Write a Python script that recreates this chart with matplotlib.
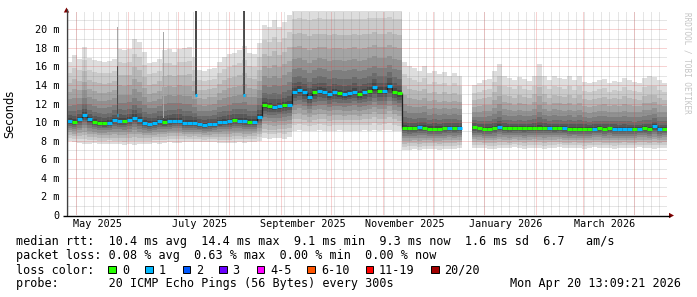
import datetime as dt
import numpy as np
import matplotlib
matplotlib.use("Agg")
import matplotlib.pyplot as plt
import matplotlib.dates as mdates
from matplotlib.patches import Polygon, Rectangle

nan = float("nan")

# ---------------------------------------------------------------- data
t_start = dt.datetime(2025, 4, 25, 13, 9, 21)
t_end = dt.datetime(2026, 4, 20, 13, 9, 21)
bin_days = 3  # every value below covers three days

median_ms = [
    10.16, 10.0, 10.3, 10.77, 10.3, 10.05, 9.9, 9.87, 9.95, 10.2,
    10.16, 10.1, 10.2, 10.5, 10.2, 9.9, 9.85, 9.9, 10.1, 10.0,
    10.1, 10.16, 10.16, 9.9, 9.9, 9.9, 9.77, 9.7, 9.75, 9.8,
    10.0, 10.05, 10.1, 10.2, 10.16, 10.1, 10.0, 10.05, 10.6, 11.8,
    11.7, 11.6, 11.7, 11.8, 11.9, 13.3, 13.5, 13.2, 12.7, 13.2,
    13.4, 13.3, 13.0, 13.2, 13.1, 13.0, 13.1, 13.3, 13.0, 13.2,
    13.4, 13.8, 13.4, 13.4, 13.9, 13.3, 13.1, 9.4, 9.35, 9.35,
    9.45, 9.4, 9.3, 9.3, 9.3, 9.35, 9.4, 9.35, 9.35, nan,
    nan, 9.45, 9.33, 9.3, 9.3, 9.35, 9.5, 9.35, 9.33, 9.35,
    9.35, 9.33, 9.4, 9.4, 9.42, 9.4, 9.35, 9.33, 9.35, 9.33,
    9.3, 9.28, 9.3, 9.3, 9.25, 9.3, 9.33, 9.3, 9.33, 9.3,
    9.28, 9.25, 9.25, 9.25, 9.3, 9.33, 9.3, 9.55, 9.25, 9.3,
]

low_ms = [
    8.0, 7.9, 7.8, 7.7, 7.7, 7.75, 7.7, 7.7, 7.7, 7.6,
    7.6, 7.5, 7.6, 7.55, 7.6, 7.7, 7.7, 7.75, 7.7, 7.8,
    7.85, 7.8, 7.8, 7.9, 7.85, 7.9, 7.9, 7.85, 7.9, 7.9,
    7.8, 7.8, 7.75, 7.8, 7.85, 7.8, 7.9, 7.9, 8.0, 8.3,
    8.2, 8.25, 8.3, 8.2, 8.4, 9.1, 9.15, 9.1, 9.0, 9.1,
    9.15, 9.1, 9.05, 9.1, 9.15, 9.1, 9.1, 9.05, 9.1, 9.15,
    9.1, 9.2, 9.1, 9.15, 9.2, 9.1, 9.0, 7.0, 7.05, 7.1,
    7.0, 7.1, 7.15, 7.1, 7.05, 7.1, 7.15, 7.1, 7.2, nan,
    nan, 7.2, 7.25, 7.2, 7.15, 7.1, 7.2, 7.25, 7.2, 7.3,
    7.2, 7.15, 7.2, 7.25, 7.2, 7.1, 7.2, 7.25, 7.3, 7.2,
    7.2, 7.25, 7.2, 7.15, 7.2, 7.3, 7.25, 7.2, 7.2, 7.15,
    7.2, 7.25, 7.2, 7.2, 7.3, 7.25, 7.2, 7.15, 7.2, 7.25,
]

high_ms = [
    16.5, 17.2, 16.8, 18.1, 16.9, 16.7, 16.6, 16.5, 16.6, 16.8,
    17.9, 17.8, 17.9, 19.0, 18.6, 17.6, 16.4, 16.5, 16.8, 17.8,
    17.9, 17.6, 17.9, 18.0, 18.1, 17.0, 15.6, 15.5, 15.7, 15.8,
    16.5, 17.0, 17.3, 17.5, 17.8, 18.2, 17.5, 17.3, 18.5, 20.5,
    20.2, 21.0, 20.3, 20.8, 21.5, 23.0, 23.0, 23.0, 23.0, 23.0,
    23.0, 23.0, 23.0, 23.0, 23.0, 23.0, 23.0, 23.0, 23.0, 23.0,
    23.0, 23.0, 23.0, 23.0, 23.0, 23.0, 23.0, 16.5, 16.0, 15.8,
    15.5, 16.0, 15.3, 15.5, 15.2, 15.4, 15.0, 15.3, 15.0, nan,
    nan, 14.0, 14.2, 14.5, 14.6, 15.5, 16.3, 15.0, 14.8, 14.5,
    14.9, 14.6, 14.4, 15.0, 16.3, 15.0, 14.5, 15.0, 14.8, 14.6,
    15.0, 14.5, 15.0, 14.3, 14.2, 14.3, 14.5, 14.7, 14.2, 14.4,
    14.3, 14.8, 14.5, 14.3, 14.2, 14.8, 15.0, 14.9, 14.5, 14.2,
]

loss_count = [
    1, 0, 1, 1, 1, 0, 0, 0, 1, 1,
    1, 0, 1, 1, 1, 1, 1, 1, 1, 0,
    1, 1, 1, 1, 1, 1, 1, 1, 1, 1,
    1, 1, 1, 0, 1, 1, 0, 1, 1, 0,
    0, 1, 1, 0, 1, 1, 1, 1, 1, 0,
    1, 1, 1, 1, 0, 1, 1, 1, 0, 1,
    0, 1, 0, 1, 1, 0, 0, 0, 0, 0,
    1, 0, 0, 0, 0, 0, 1, 0, 1, 0,
    0, 0, 0, 0, 0, 0, 1, 0, 0, 0,
    0, 0, 0, 0, 0, 0, 1, 0, 0, 1,
    0, 0, 0, 0, 0, 1, 0, 0, 0, 1,
    1, 1, 1, 0, 1, 0, 0, 1, 1, 0,
]

# single-day bursts
spike_dates = [dt.datetime(2025, 5, 25, 6), dt.datetime(2025, 6, 22, 0),
               dt.datetime(2025, 7, 11, 6), dt.datetime(2025, 8, 9, 6)]
spike_median_ms = [10.8, 10.0, 12.9, 12.9]
spike_dense_ms = [16.0, 10.4, 22.0, 22.0]
spike_high_ms = [20.2, 19.7, 22.0, 22.0]
spike_loss = [1, 0, 1, 1]

y_ticks = [0, 2, 4, 6, 8, 10, 12, 14, 16, 18, 20]
y_tick_labels = ["0", "2 m", "4 m", "6 m", "8 m", "10 m", "12 m", "14 m",
                 "16 m", "18 m", "20 m"]
x_label_months = [(2025, 5), (2025, 7), (2025, 9), (2025, 11), (2026, 1), (2026, 3)]
x_tick_labels = ["May 2025", "July 2025", "September 2025", "November 2025",
                 "January 2026", "March 2026"]

loss_labels = ["0", "1", "2", "3", "4-5", "6-10", "11-19", "20/20"]
loss_colors = ["#26ff00", "#00b8ff", "#0059ff", "#6a00ff", "#ff00ff",
               "#ff5500", "#ff0000", "#a10000"]

legend_rtt = "median rtt:  10.4 ms avg  14.4 ms max  9.1 ms min  9.3 ms now  1.6 ms sd  6.7   am/s"
legend_loss = "packet loss: 0.08 % avg  0.63 % max  0.00 % min  0.00 % now"
legend_probe = "probe:       20 ICMP Echo Pings (56 Bytes) every 300s"
stamp = "Mon Apr 20 13:09:21 2026"
watermark = "RRDTOOL / TOBI OETIKER"

# ---------------------------------------------------------------- figure
W, H, DPI = 697, 297, 100
MONO = "DejaVu Sans Mono"
plt.rcParams["font.family"] = [MONO]

fig = plt.figure(figsize=(W / DPI, H / DPI), dpi=DPI)
fig.patch.set_facecolor("white")

PX_PER_MS = (215 - 29.3) / 20.0
Y_TOP = 22.0
top_px = 215 - Y_TOP * PX_PER_MS
ax = fig.add_axes([67 / W, 1 - 215 / H, 600 / W, (215 - top_px) / H])
x0 = mdates.date2num(t_start)
x1 = mdates.date2num(t_end)
ax.set_xlim(x0, x1)
ax.set_ylim(0, Y_TOP)
ax.set_facecolor("white")
for s in ax.spines.values():
    s.set_visible(False)

med = np.array(median_ms, dtype=float)
lo = np.array(low_ms, dtype=float)
hi = np.array(high_ms, dtype=float)
edges = x0 + np.arange(len(med) + 1) * bin_days


def fill_steps(axis, e, bot, top, color, z):
    n = len(bot)
    i = 0
    while i < n:
        if np.isnan(bot[i]):
            i += 1
            continue
        j = i
        while j < n and not np.isnan(bot[j]):
            j += 1
        xs = np.repeat(e[i:j + 1], 2)[1:-1]
        yt = np.repeat(top[i:j], 2)
        yb = np.repeat(bot[i:j], 2)
        poly = np.column_stack([np.r_[xs, xs[::-1]], np.r_[yt, yb[::-1]]])
        axis.add_patch(Polygon(poly, closed=True, fc=color, ec="none", lw=0,
                               zorder=z, antialiased=False))
        i = j


# smoke: 10 bands from outermost (light) to innermost (dark)
for k in range(10):
    g = int(190 / 10 * (10 - (k + 1))) + 50
    col = "#%02x%02x%02x" % (g, g, g)
    up = ((10 - k) / 10.0) ** 2
    dn = ((10 - k) / 10.0) ** 1.5
    fill_steps(ax, edges, med - (med - lo) * dn, med + (hi - med) * up, col, 1 + k * 0.01)

# single-day bursts
for d, m, dense, top in zip(spike_dates, spike_median_ms, spike_dense_ms, spike_high_ms):
    xd = mdates.date2num(d)
    ax.add_patch(Rectangle((xd, m), 1.0, top - m, fc="#a8a8a8", ec="none", zorder=1.2,
                           antialiased=False))
    ax.add_patch(Rectangle((xd, m), 1.0, dense - m, fc="#4a4a4a", ec="none", zorder=1.3,
                           antialiased=False))

# grid (1px dotted)
minor_c = (0.5, 0.5, 0.5, 0.4)
major_c = (0.88, 0.31, 0.31, 0.5)
dots = (0, (1, 1))
for y in range(1, 22):
    ax.axhline(y, color=major_c if y % 2 == 0 else minor_c, lw=0.72, ls=dots, zorder=2)
d = dt.datetime(2025, 4, 26)
while d < t_end:
    ax.axvline(mdates.date2num(d), color=minor_c, lw=0.72, ls=dots, zorder=2)
    d += dt.timedelta(days=5)
for yy, mm in [(2025, m) for m in range(5, 13)] + [(2026, m) for m in range(1, 5)]:
    ax.axvline(mdates.date2num(dt.datetime(yy, mm, 1)), color=major_c, lw=0.72,
               ls=dots, zorder=2.1)

# median line: thin dark connector + loss-coloured steps
for i in range(len(med)):
    if np.isnan(med[i]):
        continue
    if i + 1 < len(med) and not np.isnan(med[i + 1]):
        ax.plot([edges[i + 1], edges[i + 1]], [med[i], med[i + 1]], color="#202020",
                lw=0.9, zorder=3, solid_capstyle="butt")
for i in range(len(med)):
    if np.isnan(med[i]):
        continue
    ax.hlines(med[i], edges[i], edges[i + 1], color=loss_colors[loss_count[i]],
              lw=2.2, zorder=4)
for d, m, ls_ in zip(spike_dates, spike_median_ms, spike_loss):
    xd = mdates.date2num(d)
    ax.hlines(m, xd, xd + 1.0, color=loss_colors[ls_], lw=2.2, zorder=4)

# ticks
ax.set_yticks(y_ticks)
ax.set_yticklabels(y_tick_labels, fontsize=7.3, family=MONO)
ax.set_xticks([mdates.date2num(dt.datetime(y, m, 14)) for y, m in x_label_months])
ax.set_xticklabels(x_tick_labels, fontsize=7.3, family=MONO)
ax.tick_params(axis="y", length=0, pad=5.3)
ax.tick_params(axis="x", length=0, pad=3.2)

# overlay in pixel coordinates
ov = fig.add_axes([0, 0, 1, 1], zorder=5)
ov.set_xlim(0, W)
ov.set_ylim(H, 0)
ov.axis("off")

ov.plot([66.5, 66.5], [215.5, 9], color="#404040", lw=0.9, solid_capstyle="butt")
ov.plot([63, 670], [215.5, 215.5], color="black", lw=1.0, solid_capstyle="butt")
ov.add_patch(Polygon([[63.8, 12.5], [69.2, 12.5], [66.5, 7.5]], closed=True,
                     fc="#800000", ec="none"))
ov.add_patch(Polygon([[669, 212.8], [669, 218.2], [674, 215.5]], closed=True,
                     fc="#800000", ec="none"))

ov.text(10, 114, "Seconds", rotation=90, ha="center", va="center",
        fontsize=8.3, family="DejaVu Sans", color="black")
ov.text(687.5, 12, watermark, rotation=270, ha="center", va="top",
        fontsize=5.5, family=MONO, color="#c4c4c4")

LFS = 8.5
ov.text(15.5, 245.5, legend_rtt, ha="left", va="baseline", fontsize=LFS, family=MONO)
ov.text(15.5, 259.5, legend_loss, ha="left", va="baseline", fontsize=LFS, family=MONO)
ov.text(15.5, 273.5, "loss color:", ha="left", va="baseline", fontsize=LFS, family=MONO)
ov.text(15.5, 287.5, legend_probe, ha="left", va="baseline", fontsize=LFS, family=MONO)
ov.text(681, 287.5, stamp, ha="right", va="baseline", fontsize=LFS, family=MONO)

box_x = [108.3, 145.3, 182.7, 219.3, 256.7, 307.3, 365.7, 431.0]
lab_x = [122.6, 158.8, 195.8, 232.4, 270.2, 321.0, 378.8, 444.1]
for bx, lx, lab, c in zip(box_x, lab_x, loss_labels, loss_colors):
    ov.add_patch(Rectangle((bx, 265.7), 7.6, 7.6, fc=c, ec="black", lw=0.7))
    ov.text(lx, 273.5, lab, ha="left", va="baseline", fontsize=LFS, family=MONO)

fig.savefig("out.png", dpi=DPI, facecolor="white")
